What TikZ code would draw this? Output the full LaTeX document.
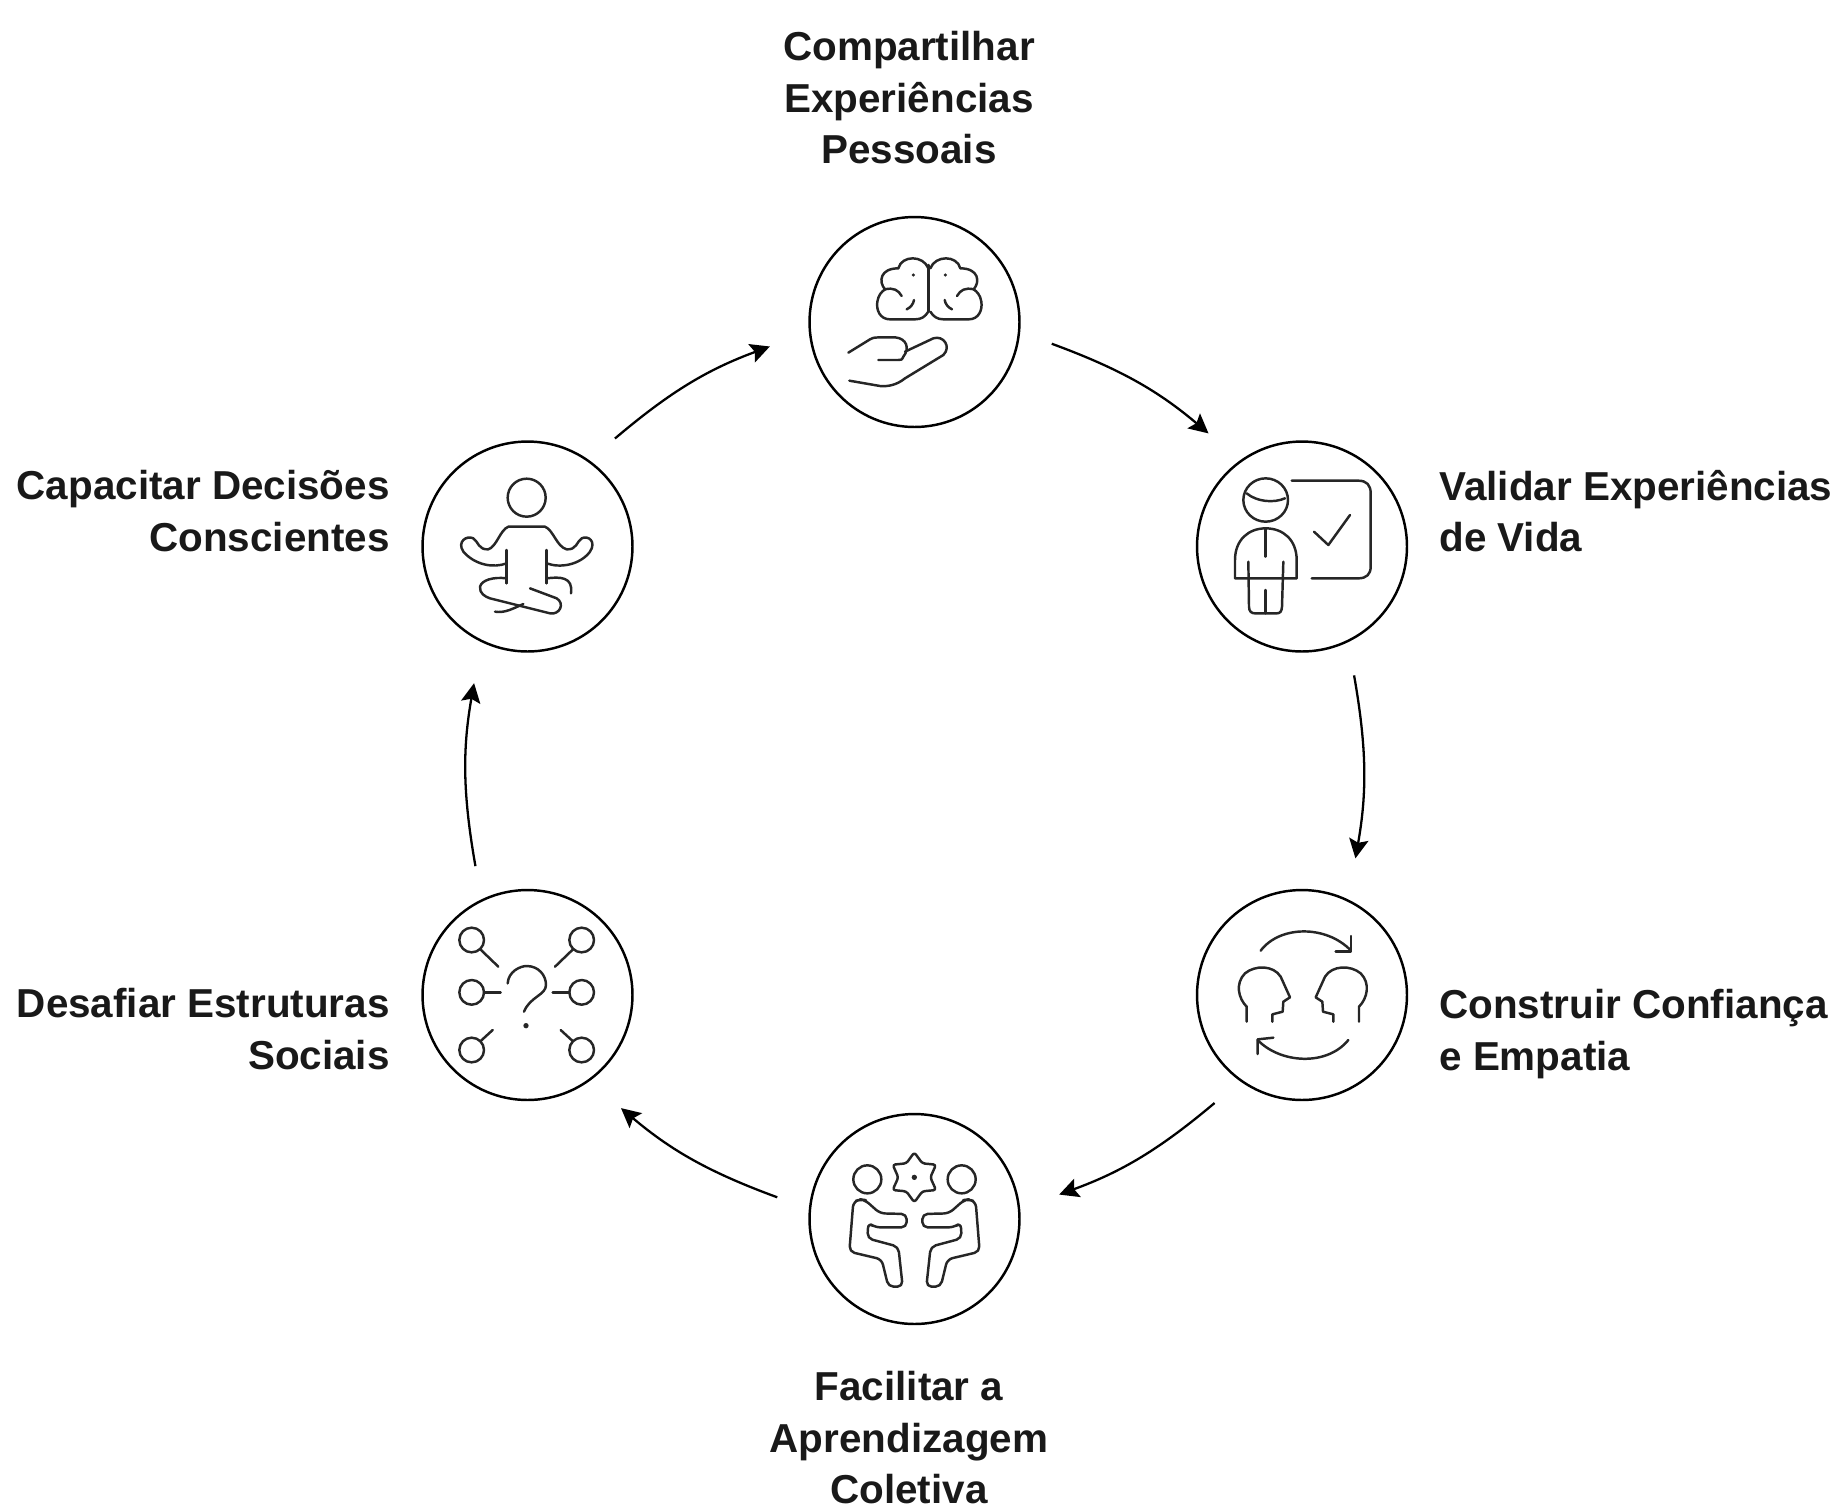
\documentclass[tikz,border=0pt]{standalone}
\usepackage{fontspec}
\setmainfont{Liberation Sans}
\usetikzlibrary{arrows.meta}
\tikzset{
  ringnode/.style={circle,draw,line width=1.4pt,minimum size=4.2cm,inner sep=0pt,outer sep=0.68cm},
  labelnode/.style={font=\fontsize{23}{29.3}\selectfont\bfseries,inner sep=0pt,text=black!90},
  flowarrow/.style={line width=1.3pt,-{Stealth[length=11pt,width=11pt,inset=2pt]},bend left=10,shorten >=4.5pt},
  iconline/.style={line width=1.4pt,line cap=round,line join=round,black!85},
}
\begin{document}
\begin{tikzpicture}[x=0.02cm,y=-0.02cm]
\useasboundingbox (0,0) rectangle (1838,1509);
\node[ringnode] (compartilhar) at (914.5,322) {};
\node[ringnode] (validar) at (1302,546.5) {};
\node[ringnode] (construir) at (1302,995) {};
\node[ringnode] (facilitar) at (914.5,1219) {};
\node[ringnode] (desafiar) at (527.5,995) {};
\node[ringnode] (capacitar) at (527.5,546.5) {};
\node[labelnode,align=center] (compartilharlabel) at (909,98) {Compartilhar\\Experiências\\Pessoais};
\node[labelnode,align=left,anchor=west] (validarlabel) at (1439,511) {Validar Experiências\\de Vida};
\node[labelnode,align=left,anchor=west] (construirlabel) at (1439,1034) {Construir Confiança\\e Empatia};
\node[labelnode,align=center] (facilitarlabel) at (909,1438) {Facilitar a\\Aprendizagem\\Coletiva};
\node[labelnode,align=right,anchor=east] (desafiarlabel) at (390,1029) {Desafiar Estruturas\\Sociais};
\node[labelnode,align=right,anchor=east] (capacitarlabel) at (390,511) {Capacitar Decisões\\Conscientes};
\draw[flowarrow] (compartilhar.-9) to (validar.129);
\draw[flowarrow] (validar.-68) to (construir.68);
\draw[flowarrow] (construir.-129) to (facilitar.9);
\draw[flowarrow] (facilitar.171) to (desafiar.-51);
\draw[flowarrow] (desafiar.112) to (capacitar.-112);
\draw[flowarrow] (capacitar.51) to (compartilhar.189);
\begin{scope}[shift={(790,200)},scale=1/3,iconline]
\foreach \s/\o in {1/0,-1/836}{
\begin{scope}[shift={(\o,0)},xscale=\s]
\draw (415,335) .. controls (405,350) and (395,358) .. (375,358) -- (300,358) .. controls (270,358) and (258,330) .. (262,305) .. controls (265,285) and (275,275) .. (285,268) .. controls (265,245) and (270,205) .. (325,205) .. controls (335,165) and (400,165) .. (415,205);
\draw (285,268) .. controls (310,262) and (325,270) .. (335,288);
\draw (372,300) .. controls (370,312) and (362,322) .. (350,328);
\fill (370,225) circle (5);
\end{scope}}
\draw (416,195) -- (416,335);
\draw (175,458) -- (240,418) .. controls (250,412) and (260,412) .. (270,412) -- (315,412) .. controls (350,415) and (360,445) .. (340,470) .. controls (335,480) .. (325,480) -- (265,480);
\draw (345,455) -- (430,415) .. controls (460,405) and (485,440) .. (460,465) -- (345,535) .. controls (320,555) and (295,560) .. (270,558) -- (178,542);
\end{scope}
\begin{scope}[shift={(1190,430)},scale=1/3,iconline]
\draw (227,210) ellipse (67 and 65);
\draw (170,190) .. controls (200,215) and (250,220) .. (285,205);
\draw (135,445) -- (135,390) .. controls (135,330) and (175,295) .. (227,295) .. controls (280,295) and (320,330) .. (320,390) -- (320,445) -- cycle;
\draw (227,295) -- (227,380);
\draw (175,395) -- (177,530) .. controls (177,545) and (185,550) .. (195,550) -- (260,550) .. controls (270,550) and (275,545) .. (276,530) -- (280,395);
\draw (227,480) -- (227,550);
\draw (305,152) -- (505,152) .. controls (530,152) and (542,165) .. (542,190) -- (542,410) .. controls (542,432) and (530,445) .. (505,445) -- (365,445);
\draw (372,305) -- (415,345) -- (480,255);
\end{scope}
\begin{scope}[shift={(1190,880)},scale=1/3,iconline]
\draw (212,212) .. controls (270,135) and (410,135) .. (483,212);
\draw (483,168) -- (483,215) -- (437,215);
\draw (475,480) .. controls (410,560) and (270,550) .. (203,480);
\draw (203,522) -- (203,478) -- (250,473);
\foreach \s/\o in {1/0,-1/677}{
\begin{scope}[shift={(\o,0)},xscale=\s]
\draw (170,425) -- (170,380) .. controls (145,355) and (135,310) .. (165,280) .. controls (195,255) and (250,255) .. (272,290) -- (300,352) -- (280,365) -- (278,395) -- (247,403) -- (247,425);
\end{scope}}
\end{scope}
\begin{scope}[shift={(790,1100)},scale=1/3,iconline]
\draw (232,238) circle (42);
\draw (515,238) circle (42);
\draw[rounded corners=1.5pt] (373,157) -- (397,190) -- (438,194) -- (421,232) -- (438,270) -- (397,274) -- (373,307) -- (349,274) -- (308,270) -- (325,232) -- (308,194) -- (349,190) -- cycle;
\fill (373,232) circle (8);
\foreach \s/\o in {1/0,-1/747}{
\begin{scope}[shift={(\o,0)},xscale=\s]
\draw[rounded corners=3pt] (212,298) -- (190,305) -- (178,455) -- (275,478) -- (295,560) -- (338,560) -- (325,440) -- (232,415) -- (235,368) -- (255,382) -- (350,382) -- (350,342) -- (270,340) -- (225,300) -- cycle;
\end{scope}}
\end{scope}
\begin{scope}[shift={(410,880)},scale=1/3,iconline]
\foreach \cx/\cy/\ax/\ay/\bx/\by in {185/180/210/207/265/260,515/180/490/207/435/260,185/337/222/337/272/337,515/337/478/337/428/337,185/510/212/483/248/450,515/510/488/483/452/450}{
\draw (\cx,\cy) circle (37);
\draw (\ax,\ay) -- (\bx,\by);
}
\draw (293,310) .. controls (295,275) and (330,258) .. (350,258) .. controls (385,258) and (408,285) .. (408,315) .. controls (408,345) and (360,350) .. (342,395);
\fill (348,437) circle (8);
\end{scope}
\begin{scope}[shift={(410,430)},scale=1/3,iconline]
\draw (350,203) circle (57);
\draw (290,400) .. controls (250,415) and (195,405) .. (160,365) .. controls (140,335) and (170,315) .. (190,325) .. controls (205,335) and (205,360) .. (235,358) .. controls (260,350) and (270,300) .. (295,290) -- (405,290) .. controls (430,300) and (440,350) .. (470,358) .. controls (500,360) and (500,335) .. (515,325) .. controls (535,315) and (560,335) .. (540,365) .. controls (510,405) and (450,415) .. (410,400);
\draw (290,360) -- (290,460);
\draw (410,360) -- (410,460);
\draw (290,445) .. controls (250,440) and (215,450) .. (210,470) .. controls (208,490) and (225,500) .. (240,505) -- (420,550) .. controls (450,555) and (465,520) .. (440,505) -- (360,475);
\draw (410,445) .. controls (450,440) and (490,440) .. (483,490);
\draw (255,545) .. controls (285,550) and (310,535) .. (340,522);
\end{scope}
\end{tikzpicture}
\end{document}
